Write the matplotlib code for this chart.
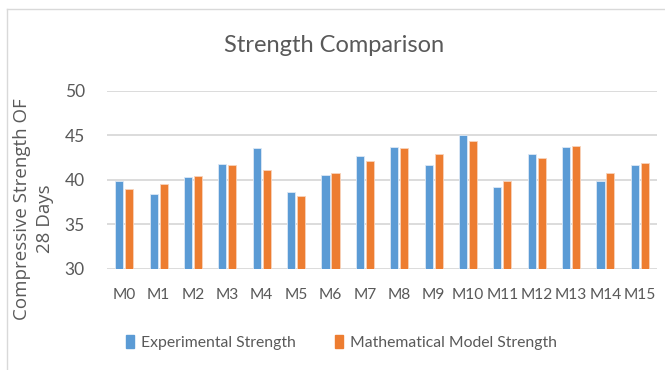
import matplotlib
matplotlib.use("Agg")
import matplotlib.pyplot as plt
import numpy as np
from matplotlib.lines import Line2D

categories = ["M0", "M1", "M2", "M3", "M4", "M5", "M6", "M7",
              "M8", "M9", "M10", "M11", "M12", "M13", "M14", "M15"]
experimental = [39.8, 38.4, 40.3, 41.8, 43.5, 38.6, 40.5, 42.7,
                43.7, 41.7, 45.0, 39.2, 42.9, 43.7, 39.8, 41.6]
model = [39.0, 39.5, 40.4, 41.6, 41.1, 38.2, 40.8, 42.1,
         43.5, 42.9, 44.3, 39.8, 42.4, 43.8, 40.7, 41.9]
yticks = [30, 35, 40, 45, 50]

blue = "#5B9BD5"
orange = "#ED7D31"
text_gray = "#595959"
font = "Lato"

fig = plt.figure(figsize=(6.65, 3.7), dpi=100)
ax = fig.add_axes([0.161, 0.274, 0.827, 0.481])

x = np.arange(len(categories))
w = 0.235
off = 0.145
ax.bar(x - off, experimental, width=w, color=blue, edgecolor="#DCE8F5",
       linewidth=0.6, zorder=3, label="Experimental Strength")
ax.bar(x + off, model, width=w, color=orange, edgecolor="#F8D3BB",
       linewidth=0.6, zorder=3, label="Mathematical Model Strength")

ax.set_ylim(30, 50)
ax.set_xlim(-0.5, len(categories) - 0.5)
ax.set_yticks(yticks)
ax.set_xticks(x)
ax.set_xticklabels(categories)
ax.yaxis.grid(True, color="#D9D9D9", linewidth=1.3, zorder=0)
for s in ax.spines.values():
    s.set_visible(False)
ax.tick_params(axis="both", length=0, labelcolor=text_gray, labelfontfamily=font)
ax.tick_params(axis="y", pad=16, labelsize=12.5)
ax.tick_params(axis="x", pad=14, labelsize=11.2)

fig.text(0.503, 0.878, "Strength Comparison", ha="center", va="center",
         fontsize=17, color=text_gray, family=font)

fig.text(0.033, 0.435, "Compressive Strength OF", rotation=90, ha="center",
         va="center", fontsize=13.5, color=text_gray, family="Open Sans")
fig.text(0.067, 0.41, "28 Days", rotation=90, ha="center",
         va="center", fontsize=13.5, color=text_gray, family="Open Sans")

handles = [plt.Rectangle((0, 0), 1, 1, color=blue),
           plt.Rectangle((0, 0), 1, 1, color=orange)]
leg = fig.legend(handles, ["Experimental Strength", "Mathematical Model Strength"],
                 loc="center", bbox_to_anchor=(0.513, 0.075), ncol=2, frameon=False,
                 handlelength=0.55, handleheight=0.9, handletextpad=0.4,
                 columnspacing=2.5, prop={"family": font, "size": 11.3})
for t in leg.get_texts():
    t.set_color(text_gray)

# outer chart frame (left and top edges)
fig.add_artist(Line2D([7 / 665, 7 / 665], [0, 1 - 9 / 370], color="#D9D9D9",
                      linewidth=1.0, transform=fig.transFigure))
fig.add_artist(Line2D([7 / 665, 1], [1 - 9 / 370, 1 - 9 / 370], color="#D9D9D9",
                      linewidth=1.0, transform=fig.transFigure))

fig.savefig("out.png", dpi=100)
